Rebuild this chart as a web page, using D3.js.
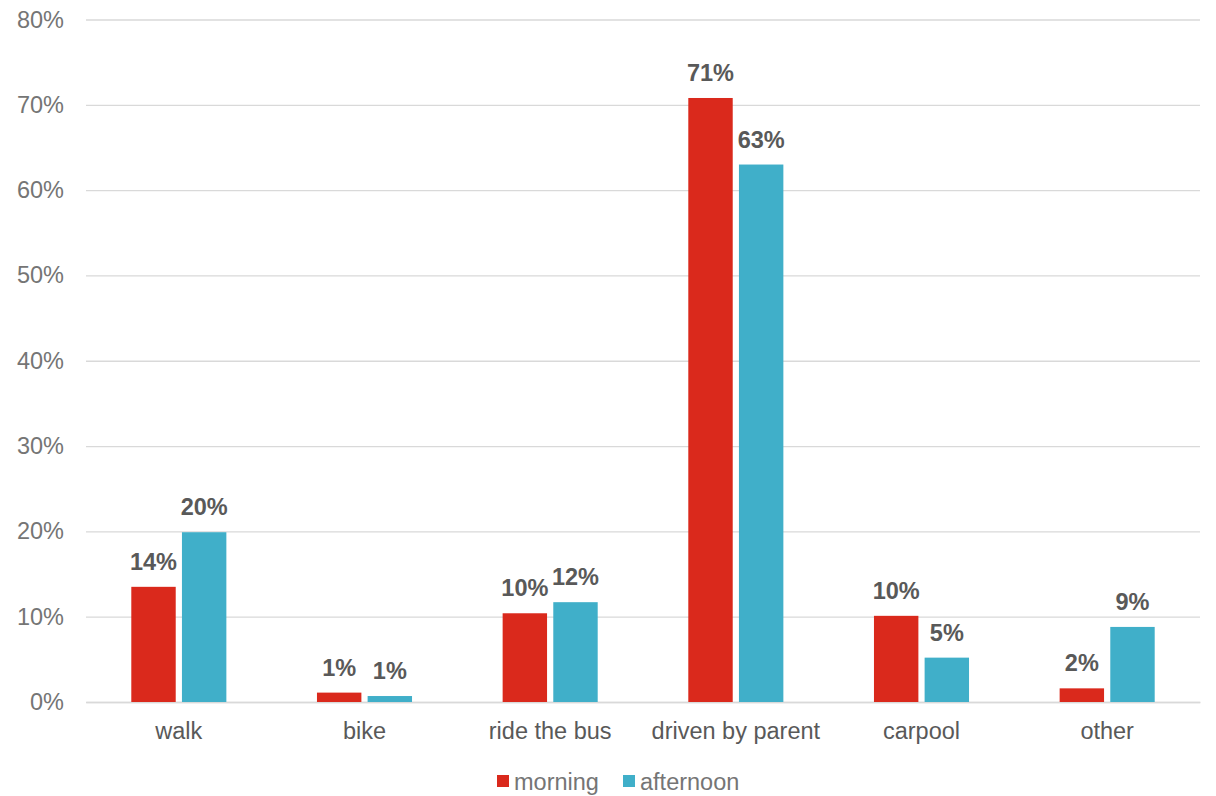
<!DOCTYPE html>
<html>
<head>
<meta charset="utf-8">
<script src="https://cdn.jsdelivr.net/npm/d3@7"></script>
<style>
  html, body { margin: 0; padding: 0; background: #fff; }
  svg { display: block; font-family: "Liberation Sans", Arial, sans-serif; }
</style>
</head>
<body>
<svg id="chart" width="1216" height="796"></svg>
<script>
// How students get to and from school
const categories = ["walk", "bike", "ride the bus", "driven by parent", "carpool", "other"];
const seriesNames = ["morning", "afternoon"];
const morning   = [0.135, 0.011, 0.104, 0.708, 0.101, 0.016];
const afternoon = [0.199, 0.007, 0.117, 0.630, 0.052, 0.088];
const yTicks = [0, 0.1, 0.2, 0.3, 0.4, 0.5, 0.6, 0.7, 0.8];
const colors = ["#DA291C", "#40AFC9"];

const FS = 23.5;
const svg = d3.select("#chart");
const margin = { left: 86, right: 16, top: 19.5, bottom: 94 };
const W = 1216, H = 796;

const x = d3.scaleBand()
  .domain(categories)
  .range([margin.left, W - margin.right])
  .paddingInner(0)
  .paddingOuter(0);

const y = d3.scaleLinear()
  .domain([0, 0.8])
  .range([H - margin.bottom, margin.top]);

// bar geometry within a category band
const barW = x.bandwidth() * 0.2245;
const barGap = x.bandwidth() * 0.063;
const xs = d3.scaleBand().domain(seriesNames)
  .range([x.bandwidth() / 2 - barW - barGap / 2, x.bandwidth() / 2 + barW + barGap / 2])
  .paddingInner(barGap / (2 * barW + barGap));

// gridlines
const yAxis = d3.axisLeft(y)
  .tickValues(yTicks)
  .tickFormat(d3.format(".0%"))
  .tickSize(-(W - margin.left - margin.right))
  .tickPadding(22);

const gy = svg.append("g")
  .attr("transform", `translate(${margin.left},0)`)
  .call(yAxis);
gy.select(".domain").remove();
gy.selectAll(".tick line").attr("stroke", "#D9D9D9").attr("stroke-width", 1.3);
gy.selectAll(".tick text")
  .attr("fill", "#757575")
  .attr("font-size", FS)
  .attr("font-family", "Liberation Sans, Arial, sans-serif");

// category axis
const xAxis = d3.axisBottom(x).tickSize(0).tickPadding(20);
const gx = svg.append("g")
  .attr("transform", `translate(0,${y(0)})`)
  .call(xAxis);
gx.select(".domain").attr("stroke", "#D9D9D9").attr("stroke-width", 1.3);
gx.selectAll(".tick text")
  .attr("fill", "#595959")
  .attr("font-size", FS)
  .attr("font-family", "Liberation Sans, Arial, sans-serif");

const rows = categories.map((c, i) => ({
  category: c,
  values: [
    { series: "morning", value: morning[i] },
    { series: "afternoon", value: afternoon[i] }
  ]
}));

const groups = svg.append("g").selectAll("g")
  .data(rows)
  .join("g")
  .attr("transform", d => `translate(${x(d.category)},0)`);

groups.selectAll("rect")
  .data(d => d.values)
  .join("rect")
  .attr("x", d => xs(d.series))
  .attr("width", xs.bandwidth())
  .attr("y", d => y(d.value))
  .attr("height", d => y(0) - y(d.value))
  .attr("fill", d => colors[seriesNames.indexOf(d.series)]);

groups.selectAll("text.val")
  .data(d => d.values)
  .join("text")
  .attr("class", "val")
  .attr("x", d => xs(d.series) + xs.bandwidth() / 2)
  .attr("y", d => y(d.value) - 17)
  .attr("text-anchor", "middle")
  .attr("font-size", FS)
  .attr("font-weight", "bold")
  .attr("fill", "#595959")
  .text(d => d3.format(".0%")(d.value));

// legend
const legend = svg.append("g").attr("transform", "translate(0,782)");
const legendItems = [
  { name: "morning", x: 497 },
  { name: "afternoon", x: 623 }
];
legendItems.forEach((it, i) => {
  legend.append("rect")
    .attr("x", it.x).attr("y", -7)
    .attr("width", 12).attr("height", 12)
    .attr("fill", colors[i]);
  legend.append("text")
    .attr("x", it.x + 17).attr("y", 0)
    .attr("dy", "0.35em")
    .attr("font-size", FS)
    .attr("fill", "#757575")
    .text(it.name);
});
</script>
</body>
</html>
